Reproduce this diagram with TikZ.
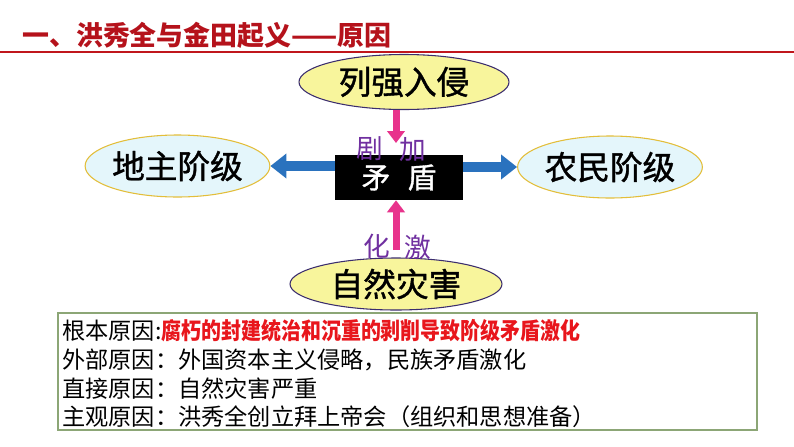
\documentclass[tikz,border=0pt]{standalone}
\usepackage{fontspec}
\setmainfont{Noto Sans CJK SC}
\newfontfamily\cjkmed[FakeBold=1.2]{Noto Sans CJK SC}
\usetikzlibrary{arrows.meta,shapes.geometric}
\definecolor{titlered}{HTML}{B5121B}
\definecolor{lineRed}{HTML}{C0161C}
\definecolor{yelfill}{HTML}{F8F59C}
\definecolor{cyanfill}{HTML}{E4F6FB}
\definecolor{goldline}{HTML}{E3BE3A}
\definecolor{navyline}{HTML}{3B2D6E}
\definecolor{pinkar}{HTML}{E8338C}
\definecolor{bluear}{HTML}{2A72BE}
\definecolor{purpletx}{HTML}{7030A0}
\definecolor{boxline}{HTML}{8CA676}
\definecolor{redtx}{HTML}{E8161C}
\tikzset{
  yelell/.style={ellipse, draw=navyline, line width=0.8pt, fill=yelfill, inner sep=0pt, font=\cjkmed\fontsize{24.5}{24.5}\selectfont},
  cyanell/.style={ellipse, draw=goldline, line width=0.8pt, fill=cyanfill, inner sep=0pt, font=\cjkmed\fontsize{24.5}{24.5}\selectfont},
  pinkarrow/.style={draw=pinkar, line width=5.25pt, -{Triangle[width=13pt,length=9pt]}},
  bluearrow/.style={draw=bluear, line width=7.5pt, -{Triangle[width=18pt,length=12pt]}},
  purplelab/.style={text=purpletx, font=\fontsize{20}{20}\selectfont, inner sep=0pt},
  bodyline/.style={anchor=west, inner sep=0pt, font=\fontsize{17.4}{17.4}\selectfont}
}
\begin{document}
\begin{tikzpicture}[x=0.75pt,y=-0.75pt]
\useasboundingbox[fill=white] (0,0) rectangle (794,447);
% title
\node[anchor=west, inner sep=0pt, text=titlered, font=\fontsize{20.2}{20.2}\selectfont\bfseries] (title) at (22,35) {一、洪秀全与金田起义——原因};
\draw[lineRed, line width=1.5pt] (0,52) -- (794,52);
% ellipses
\node[yelell, minimum width=157.5pt, minimum height=41.25pt] (top) at (404,82) {列强入侵};
\node[cyanell, minimum width=111.75pt, minimum height=46.5pt] (left) at (177.5,166) {地主阶级};
\node[cyanell, minimum width=130.5pt, minimum height=46.5pt] (right) at (610,167) {农民阶级};
\node[yelell, minimum width=159pt, minimum height=39pt] (bottom) at (396,284) {自然灾害};
% contradiction box
\node[fill=black, text=white, minimum width=96pt, minimum height=33.75pt, inner sep=0pt, font=\cjkmed\fontsize{21.5}{21.5}\selectfont] (box) at (399,177.5) {矛\hspace{0.6em}盾};
% arrows
\coordinate (jtip) at (396,143);
\coordinate (hstart) at (396,250);
\draw[pinkarrow] (jtip |- top.south) -- (jtip);
\draw[pinkarrow] (hstart) -- (hstart |- box.south);
\draw[bluearrow] (box.west |- left.east) -- (left.east);
\draw[bluearrow] (box.east |- right.west) -- (right.west);
% labels
\node[purplelab] (ju) at (370,149) {剧};
\node[purplelab] (jia) at (413,150) {加};
\node[purplelab] (hua) at (377,246) {化};
\node[purplelab] (ji) at (418,247) {激};
% text box
\draw[boxline, line width=0.8pt, fill=white] (58,313) rectangle (757,430);
\node[bodyline] (l1) at (62,331) {根本原因:\textcolor{redtx}{\bfseries\scalebox{0.86}[1]{腐朽的封建统治和沉重的剥削导致阶级矛盾激化}}};
\node[bodyline] (l2) at (62,360) {外部原因：外国资本主义侵略，民族矛盾激化};
\node[bodyline] (l3) at (62,389) {直接原因：自然灾害严重};
\node[bodyline] (l4) at (62,417) {主观原因：洪秀全创立拜上帝会（组织和思想准备）};
\end{tikzpicture}
\end{document}
